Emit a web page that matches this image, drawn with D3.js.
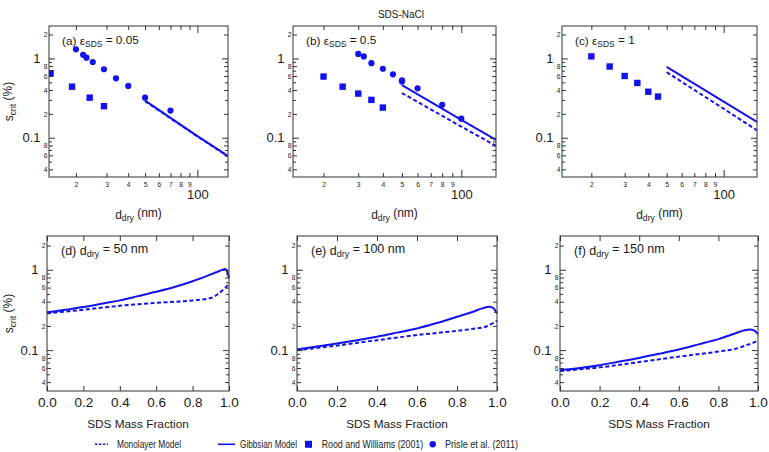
<!DOCTYPE html>
<html><head><meta charset="utf-8">
<script src="https://cdn.jsdelivr.net/npm/d3@7"></script>
<style>
body{margin:0;background:#fff}
svg{display:block}
text{font-family:"Liberation Sans",Arial,sans-serif;fill:#1a1a1a}
</style>
</head><body>
<svg id="c" width="769" height="452"></svg>
<script>
// ---------- DATA ----------
const panelLetters = ["a", "b", "c"];
const epsValues = ["0.05", "0.5", "1"];
const ddryValues = ["50", "100", "150"];

// Top row: critical supersaturation (%) vs dry diameter (nm)
const prisleD_a = [20, 22, 23, 25, 29, 34, 40, 50, 70];
const prisleS_a = [1.30, 1.11, 1.02, 0.90, 0.73, 0.56, 0.45, 0.32, 0.22];
const roodD_a = [14.3, 19, 24, 29];
const roodS_a = [0.65, 0.44, 0.32, 0.25];

const prisleD_b = [30, 32, 35, 40, 45, 50, 50, 60, 80, 100];
const prisleS_b = [1.14, 1.06, 0.87, 0.74, 0.63, 0.53, 0.51, 0.42, 0.26, 0.174];
const roodD_b = [20, 25, 30, 35, 40];
const roodS_b = [0.59, 0.44, 0.36, 0.30, 0.24];

const prisleD_c = [];
const prisleS_c = [];
const roodD_c = [20, 25, 30, 35, 40, 45];
const roodS_c = [1.06, 0.79, 0.60, 0.49, 0.38, 0.33];

const modelD = [50, 100, 150];
const gibbsS_a = [0.293, 0.105, 0.059];
const monoS_a = [0.289, 0.104, 0.058];
const gibbsS_b = [0.46, 0.168, 0.094];
const monoS_b = [0.366, 0.138, 0.079];
const gibbsS_c = [0.78, 0.286, 0.158];
const monoS_c = [0.67, 0.232, 0.124];

// Bottom row: critical supersaturation (%) vs SDS mass fraction
const gibbsFrac = [0, 0.1, 0.2, 0.3, 0.4, 0.5, 0.6, 0.7, 0.8, 0.88, 0.93, 0.96, 0.98, 0.99, 1.0];
const gibbsS_d = [0.295, 0.318, 0.343, 0.378, 0.416, 0.47, 0.532, 0.61, 0.72, 0.84, 0.93, 0.99, 1.02, 0.95, 0.79];
const gibbsS_e = [0.102, 0.111, 0.121, 0.133, 0.147, 0.165, 0.186, 0.218, 0.26, 0.30, 0.333, 0.346, 0.335, 0.315, 0.287];
const gibbsS_f = [0.0563, 0.060, 0.065, 0.072, 0.080, 0.090, 0.102, 0.118, 0.137, 0.160, 0.176, 0.181, 0.176, 0.168, 0.158];

const monoFrac = [0, 0.2, 0.4, 0.6, 0.8, 0.9, 0.94, 0.97, 0.99, 1.0];
const monoS_d = [0.287, 0.318, 0.356, 0.388, 0.415, 0.445, 0.50, 0.57, 0.63, 0.66];
const monoS_e = [0.100, 0.114, 0.133, 0.154, 0.174, 0.187, 0.194, 0.210, 0.225, 0.232];
const monoS_f = [0.055, 0.061, 0.071, 0.083, 0.096, 0.106, 0.115, 0.121, 0.127, 0.122];

// Tick values
const yMajorTicks = [0.1, 1];
const yMinorLabeled = [0.04, 0.06, 0.08, 0.2, 0.4, 0.6, 0.8, 2];
const yMinorPlain = [0.05, 0.07, 0.09, 0.3, 0.5, 0.7, 0.9];
const xDiamMinor = [20, 30, 40, 50, 60, 70, 80, 90];
const xDiamMajor = [100];
const fracTicks = [0, 0.2, 0.4, 0.6, 0.8, 1.0];
const legendLabels = ["Monolayer Model", "Gibbsian Model", "Rood and Williams (2001)", "Prisle et al. (2011)"];

// ---------- DRAW ----------
const svg = d3.select("#c");
const blue = "#1212ee";
const ink = "#333";

svg.append("text").attr("x", 401).attr("y", 18).attr("text-anchor", "middle")
  .attr("font-size", 10).text("SDS-NaCl");

function styleAxis(g, fs) {
  g.select(".domain").remove();
  g.attr("font-size", fs).attr("font-family", null);
  g.selectAll("line").attr("stroke", ink).attr("stroke-width", 1);
  g.selectAll("text").attr("fill", "#1a1a1a");
}
function addAxis(parent, axis, tx, ty, fs) {
  const g = parent.append("g").attr("transform", `translate(${tx},${ty})`).call(axis);
  styleAxis(g, fs);
  return g;
}
const fmtMajor = d => (d >= 1 ? "1" : "0.1");
const fmtMinor = d => String(Math.round(d / Math.pow(10, Math.floor(Math.log10(d) + 1e-9))));

function yAxes(g, y, x0, x1) {
  addAxis(g, d3.axisLeft(y).tickValues(yMajorTicks).tickSize(-6).tickPadding(8.5).tickFormat(fmtMajor), x0, 0, 13);
  addAxis(g, d3.axisLeft(y).tickValues(yMinorLabeled).tickSize(-4).tickPadding(1.5).tickFormat(fmtMinor), x0, 0, 6.8);
  addAxis(g, d3.axisLeft(y).tickValues(yMinorPlain).tickSize(-3).tickFormat(""), x0, 0, 6);
  addAxis(g, d3.axisRight(y).tickValues(yMajorTicks).tickSize(-6).tickFormat(""), x1, 0, 6);
  addAxis(g, d3.axisRight(y).tickValues(yMinorLabeled).tickSize(-4).tickFormat(""), x1, 0, 6);
  addAxis(g, d3.axisRight(y).tickValues(yMinorPlain).tickSize(-3).tickFormat(""), x1, 0, 6);
}

function subText(sel, parts) {
  parts.forEach(([t, sub], i) => {
    const ts = sel.append("tspan").text(t);
    if (sub) ts.attr("font-size", "0.72em").attr("dy", "0.3em");
    else if (i > 0 && parts[i - 1][1]) ts.attr("dy", "-0.3em");
  });
}

function frame(g, x0, y0, x1, y1) {
  g.append("rect").attr("x", x0).attr("y", y0).attr("width", x1 - x0).attr("height", y1 - y0)
    .attr("fill", "none").attr("stroke", ink).attr("stroke-width", 1);
}

let clipId = 0;
function clip(g, x0, y0, x1, y1) {
  const id = "clip" + (clipId++);
  svg.append("clipPath").attr("id", id).append("rect")
    .attr("x", x0).attr("y", y0).attr("width", x1 - x0).attr("height", y1 - y0);
  return g.append("g").attr("clip-path", `url(#${id})`);
}

// Top row
const topBox = [[49, 228], [293, 496], [562, 757]];
const topY0 = 26, topY1 = 177;
const topData = [
  [prisleD_a, prisleS_a, roodD_a, roodS_a, gibbsS_a, monoS_a],
  [prisleD_b, prisleS_b, roodD_b, roodS_b, gibbsS_b, monoS_b],
  [prisleD_c, prisleS_c, roodD_c, roodS_c, gibbsS_c, monoS_c]
];
topBox.forEach(([x0, x1], i) => {
  const g = svg.append("g");
  const x = d3.scaleLog().domain([14, 150]).range([x0, x1]);
  const y = d3.scaleLog().domain([0.032, 2.56]).range([topY1, topY0]);
  const [pD, pS, rD, rS, gS, mS] = topData[i];
  const c = clip(g, x0, topY0, x1, topY1);
  const line = d3.line().x((d, k) => x(modelD[k])).y(d => y(d));
  c.append("path").datum(mS).attr("d", line).attr("fill", "none").attr("stroke", blue)
    .attr("stroke-width", 2).attr("stroke-dasharray", "4,2.5");
  c.append("path").datum(gS).attr("d", line).attr("fill", "none").attr("stroke", blue)
    .attr("stroke-width", 2);
  c.selectAll("rect.sq").data(rS).join("rect").attr("class", "sq")
    .attr("x", (d, k) => x(rD[k]) - 3.2).attr("y", d => y(d) - 3.2)
    .attr("width", 6.4).attr("height", 6.4).attr("fill", blue);
  c.selectAll("circle").data(pS).join("circle")
    .attr("cx", (d, k) => x(pD[k])).attr("cy", d => y(d)).attr("r", 3.1).attr("fill", blue);

  frame(g, x0, topY0, x1, topY1);
  yAxes(g, y, x0, x1);
  addAxis(g, d3.axisBottom(x).tickValues(xDiamMinor).tickSize(-4).tickPadding(5).tickFormat(d => d / 10), 0, topY1, 6.8);
  addAxis(g, d3.axisBottom(x).tickValues(xDiamMajor).tickSize(-7).tickPadding(12.5).tickFormat(d3.format("d")), 0, topY1, 13);
  addAxis(g, d3.axisTop(x).tickValues(xDiamMinor).tickSize(-4).tickFormat(""), 0, topY0, 6);
  addAxis(g, d3.axisTop(x).tickValues(xDiamMajor).tickSize(-7).tickFormat(""), 0, topY0, 6);

  const lab = g.append("text").attr("x", x0 + 13).attr("y", 44.5).attr("font-size", 11.8);
  subText(lab, [[`(${panelLetters[i]}) \u03b5`, false], ["SDS", true], [` = ${epsValues[i]}`, false]]);
  const xl = g.append("text").attr("x", (x0 + x1) / 2).attr("y", 218.5).attr("text-anchor", "middle").attr("font-size", 12);
  subText(xl, [["d", false], ["dry", true], [" (nm)", false]]);
});

// Bottom row
const botBox = [[47, 229], [297, 497], [560, 758]];
const botY0 = 236, botY1 = 391;
const botLetters = ["d", "e", "f"];
const botData = [[gibbsS_d, monoS_d], [gibbsS_e, monoS_e], [gibbsS_f, monoS_f]];
botBox.forEach(([x0, x1], i) => {
  const g = svg.append("g");
  const x = d3.scaleLinear().domain([0, 1]).range([x0, x1]);
  const y = d3.scaleLog().domain([0.031, 2.63]).range([botY1, botY0]);
  const [gS, mS] = botData[i];
  const c = clip(g, x0, botY0, x1 + 1, botY1);
  c.append("path").datum(mS)
    .attr("d", d3.line().x((d, k) => x(monoFrac[k])).y(d => y(d)).curve(d3.curveMonotoneX))
    .attr("fill", "none").attr("stroke", blue).attr("stroke-width", 2).attr("stroke-dasharray", "4,2.5");
  c.append("path").datum(gS)
    .attr("d", d3.line().x((d, k) => x(gibbsFrac[k])).y(d => y(d)).curve(d3.curveMonotoneX))
    .attr("fill", "none").attr("stroke", blue).attr("stroke-width", 2);

  frame(g, x0, botY0, x1, botY1);
  yAxes(g, y, x0, x1);
  addAxis(g, d3.axisBottom(x).tickValues(fracTicks).tickSize(-5).tickPadding(6.5).tickFormat(d3.format(".1f")), 0, botY1, 13.5);
  addAxis(g, d3.axisTop(x).tickValues(fracTicks).tickSize(-5).tickFormat(""), 0, botY0, 6);

  const lab = g.append("text").attr("x", x0 + 14).attr("y", 254.5).attr("font-size", 12.5);
  subText(lab, [[`(${botLetters[i]}) d`, false], ["dry", true], [` = ${ddryValues[i]} nm`, false]]);
  g.append("text").attr("x", (x0 + x1) / 2).attr("y", 427.5).attr("text-anchor", "middle")
    .attr("font-size", 11.8).text("SDS Mass Fraction");
});

// Y titles
[101.5, 313.5].forEach(yc => {
  const t = svg.append("text").attr("transform", `translate(13,${yc}) rotate(-90)`)
    .attr("text-anchor", "middle").attr("font-size", 12);
  subText(t, [["s", false], ["crit", true], [" (%)", false]]);
});

// Legend
const ly = 444.3;
const lg = svg.append("g");
const legFont = 11;
lg.append("line").attr("x1", 95).attr("x2", 108).attr("y1", ly).attr("y2", ly)
  .attr("stroke", blue).attr("stroke-width", 1.6).attr("stroke-dasharray", "2.5,1.5");
lg.append("text").attr("x", 117).attr("y", ly + 4).attr("font-size", legFont)
  .attr("textLength", 64).attr("lengthAdjust", "spacingAndGlyphs").text(legendLabels[0]);
lg.append("line").attr("x1", 218).attr("x2", 235).attr("y1", ly).attr("y2", ly)
  .attr("stroke", blue).attr("stroke-width", 1.6);
lg.append("text").attr("x", 240).attr("y", ly + 4).attr("font-size", legFont)
  .attr("textLength", 57).attr("lengthAdjust", "spacingAndGlyphs").text(legendLabels[1]);
lg.append("rect").attr("x", 305).attr("y", ly - 3.5).attr("width", 7).attr("height", 7).attr("fill", blue);
lg.append("text").attr("x", 321.7).attr("y", ly + 4).attr("font-size", legFont)
  .attr("textLength", 101.5).attr("lengthAdjust", "spacingAndGlyphs").text(legendLabels[2]);
lg.append("circle").attr("cx", 432.7).attr("cy", ly).attr("r", 3.2).attr("fill", blue);
lg.append("text").attr("x", 445).attr("y", ly + 4).attr("font-size", legFont)
  .attr("textLength", 73).attr("lengthAdjust", "spacingAndGlyphs").text(legendLabels[3]);
</script>
</body></html>
